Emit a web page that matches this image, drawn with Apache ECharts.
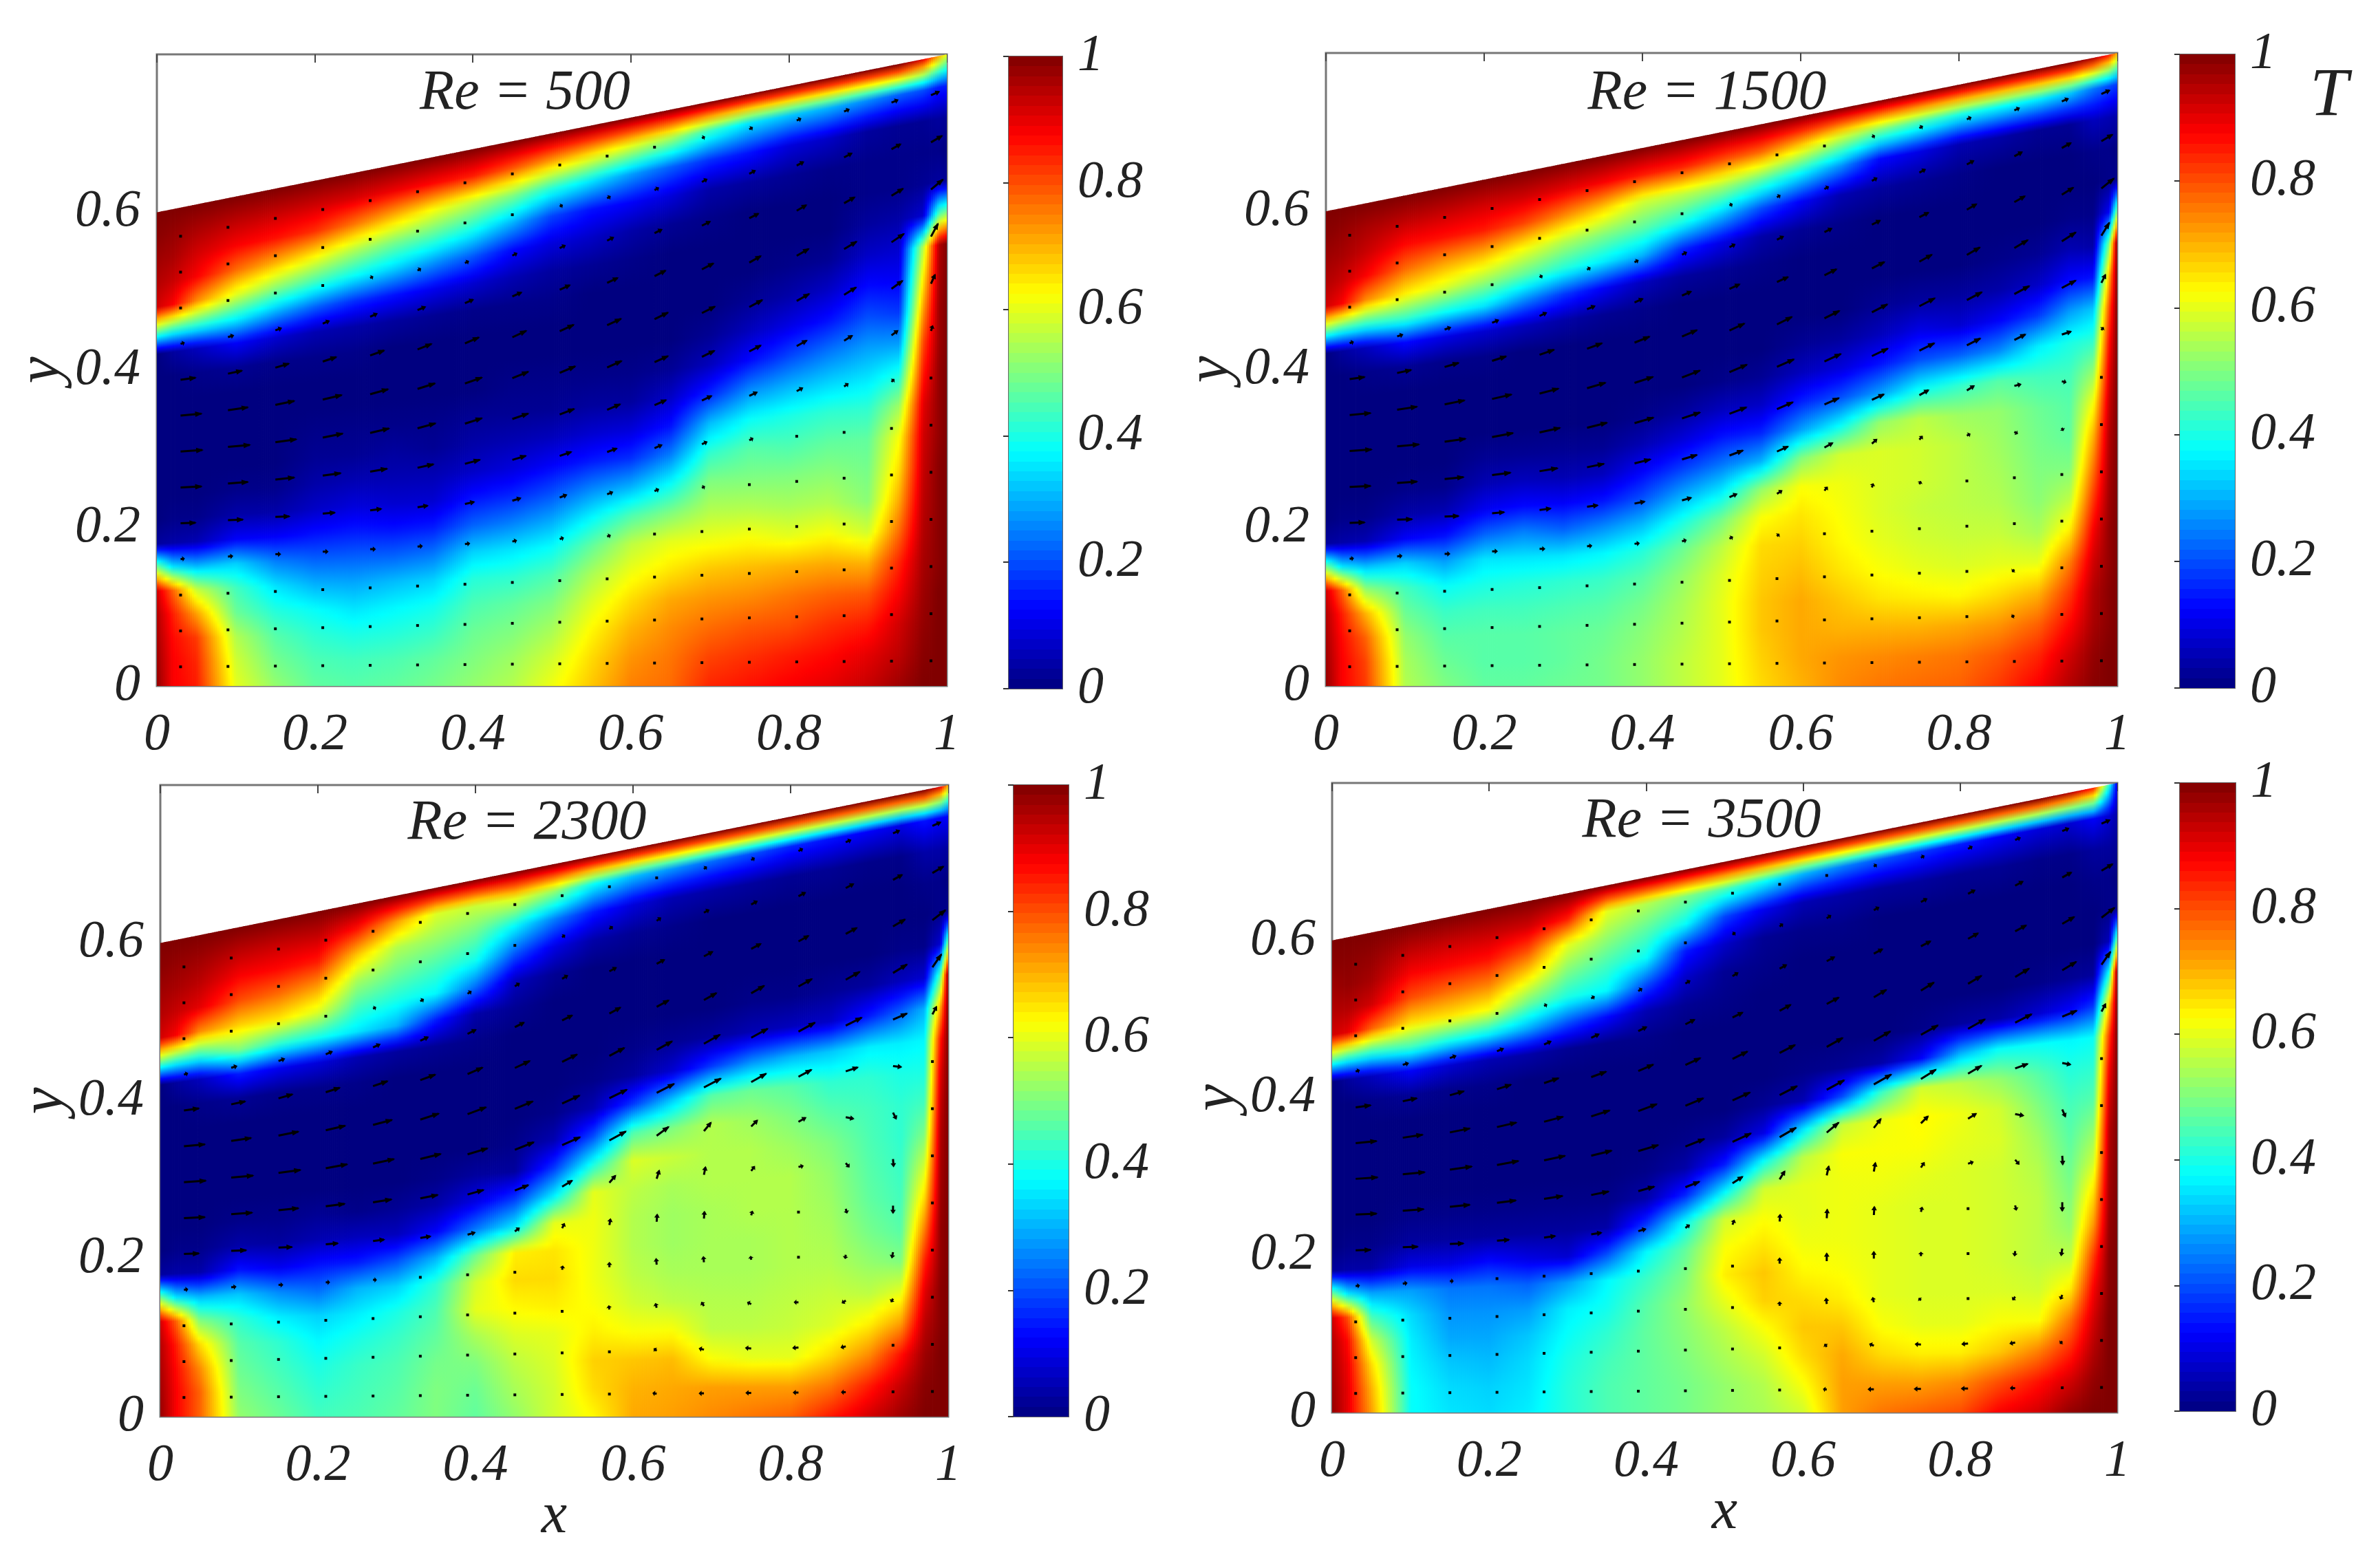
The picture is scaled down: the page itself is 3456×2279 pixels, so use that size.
<!DOCTYPE html>
<html>
<head>
<meta charset="utf-8">
<script src="https://cdn.jsdelivr.net/npm/echarts@6/dist/echarts.min.js"></script>
<style>
html, body { margin: 0; background: #fff; }
#chart { width: 3456px; height: 2279px; }
</style>
</head>
<body>
<div id="chart"></div>
<script>
// mesh: columns at xNodes, 21 nodes per column from floor (eta 0) to sloped wall (eta 1)
const xNodes = [0, 0.02, 0.05, 0.1, 0.15, 0.2, 0.25, 0.3, 0.35, 0.4, 0.45, 0.5, 0.55, 0.6, 0.65, 0.7, 0.75, 0.8, 0.85, 0.9, 0.94, 0.97, 0.99, 1]
const etaNodes = [0, 0.05, 0.1, 0.15, 0.2, 0.25, 0.3, 0.35, 0.4, 0.45, 0.5, 0.55, 0.6, 0.65, 0.7, 0.75, 0.8, 0.85, 0.9, 0.95, 1]
const wallLeft = 0.6
const wallRight = 0.8
const reLabels = ['Re = 500', 'Re = 1500', 'Re = 2300', 'Re = 3500']

// T x100, one line per column of xNodes
const T500 = [
  [98,97,96,95,92,50,3,0,0,0,0,0,0,0,0,50,92,95,97,99,100],
  [88,88,87,85,78,35,4,1,0,0,0,0,0,0,3,45,88,93,96,98,100],
  [85,84,82,72,57,30,5,1,0,0,0,0,0,1,6,42,74,88,92,96,100],
  [60,58,55,48,44,33,12,4,1,0,0,0,0,2,12,37,60,77,88,94,100],
  [52,49,46,41,35,25,12,4,1,0,0,0,0,1,8,29,51,70,86,93,100],
  [47,45,42,38,30,22,14,7,4,2,1,0,0,1,5,22,44,63,83,92,100],
  [46,44,40,35,29,22,15,9,5,2,1,0,0,1,4,17,38,55,76,91,100],
  [47,45,41,37,31,22,14,8,5,3,1,0,0,0,3,14,33,49,69,89,100],
  [49,47,43,39,33,24,15,8,5,2,1,0,0,0,2,11,27,45,62,87,100],
  [52,50,48,45,41,33,22,14,7,4,2,0,0,0,1,8,21,39,56,85,100],
  [55,53,50,47,42,35,25,16,9,5,2,1,0,0,1,5,13,30,50,79,100],
  [61,58,54,50,45,38,29,20,12,6,2,1,0,0,1,3,9,19,41,72,100],
  [68,66,63,59,54,47,37,26,15,8,3,1,0,0,0,2,7,14,35,66,100],
  [75,73,70,66,61,56,45,30,17,9,3,1,0,0,0,1,4,12,28,60,100],
  [77,76,74,71,65,60,50,38,25,14,7,2,0,0,0,0,2,9,22,54,100],
  [84,81,77,73,68,61,55,50,42,31,16,6,2,0,0,0,1,4,17,43,100],
  [86,83,79,74,69,62,55,50,46,38,26,13,6,2,0,0,0,3,14,35,100],
  [88,85,80,76,70,60,54,50,45,40,30,19,10,4,1,0,0,2,9,32,100],
  [90,87,83,78,71,62,55,51,47,42,33,24,14,7,2,0,0,1,7,30,100],
  [93,90,85,79,70,58,51,49,47,42,35,28,20,13,7,3,1,1,3,26,100],
  [97,94,92,88,84,77,71,66,62,53,40,28,18,12,8,4,1,1,2,22,100],
  [100,99,98,97,96,95,94,93,92,90,85,80,72,64,55,8,2,1,2,20,90],
  [100,100,100,100,99,99,99,99,98,98,98,97,97,96,95,45,3,1,3,15,70],
  [100,100,100,100,100,100,100,100,100,100,100,100,100,100,100,50,2,0,2,15,60],
]
const T1500 = [
  [98,97,96,95,92,50,3,0,0,0,0,0,0,0,0,50,92,95,97,99,100],
  [88,88,87,85,78,35,4,1,0,0,0,0,0,0,3,45,88,93,96,98,100],
  [82,81,78,70,52,30,5,1,0,0,0,0,0,1,6,42,74,88,93,96,100],
  [55,54,52,48,44,33,12,4,1,0,0,0,0,2,13,43,64,77,87,94,100],
  [50,48,46,43,38,28,14,5,1,0,0,0,0,1,10,38,59,72,86,93,100],
  [47,46,46,44,40,35,22,11,5,2,0,0,0,1,8,35,53,69,85,92,100],
  [47,46,46,44,41,35,25,13,6,2,0,0,0,0,6,26,47,62,81,92,100],
  [48,47,47,45,42,35,22,12,5,2,0,0,0,0,4,18,41,55,74,90,100],
  [49,49,48,46,43,37,26,14,6,2,0,0,0,0,2,12,36,50,67,88,100],
  [52,52,51,49,46,41,31,20,12,5,1,0,0,0,1,6,30,46,58,85,100],
  [56,56,55,54,52,48,40,29,18,9,3,0,0,0,0,3,16,40,56,84,100],
  [60,60,60,60,59,56,49,36,24,14,6,1,0,0,0,2,10,31,53,80,100],
  [66,67,68,68,67,66,62,52,30,16,7,2,0,0,0,1,4,20,46,77,100],
  [70,71,71,71,69,67,65,62,50,28,15,6,2,0,0,0,2,12,37,68,100],
  [74,73,70,68,65,63,62,61,58,38,20,9,3,0,0,0,1,5,27,58,100],
  [76,74,70,65,62,60,59,59,59,52,28,14,6,2,0,0,0,3,13,50,100],
  [77,75,70,64,60,58,57,58,58,56,38,20,10,3,0,0,0,2,10,45,100],
  [78,76,71,63,59,57,56,56,56,53,42,22,8,3,0,0,0,1,5,40,100],
  [82,79,73,66,60,57,55,54,53,52,46,26,12,4,1,0,0,0,4,38,100],
  [88,84,78,70,60,54,51,50,49,48,44,36,18,7,2,0,0,0,2,36,100],
  [95,92,87,82,75,64,56,50,47,46,44,40,28,13,5,1,0,0,2,32,100],
  [99,98,96,95,92,88,82,76,70,62,52,42,32,14,4,1,0,1,6,24,95],
  [100,100,99,99,98,98,97,96,95,93,90,86,80,70,50,12,1,1,5,20,85],
  [100,100,100,100,100,100,100,100,100,100,100,100,100,100,100,50,1,0,4,18,70],
]
const T2300 = [
  [98,97,96,95,92,50,3,0,0,0,0,0,0,0,0,50,92,95,97,99,100],
  [88,88,87,85,78,35,4,1,0,0,0,0,0,0,3,45,88,93,96,98,100],
  [78,78,74,66,50,30,4,1,0,0,0,0,0,1,6,42,74,90,94,97,100],
  [52,50,48,46,42,32,14,4,1,0,0,0,0,2,15,50,67,80,88,94,100],
  [48,46,44,42,36,26,11,3,1,0,0,0,0,1,11,42,65,77,87,93,100],
  [44,42,40,37,33,23,14,5,2,0,0,0,0,1,9,39,59,72,85,93,100],
  [45,44,43,40,36,30,15,6,1,0,0,0,0,1,5,35,44,54,68,86,100],
  [47,46,45,43,40,33,20,6,2,0,0,0,0,0,3,30,40,48,55,72,100],
  [50,50,49,47,45,42,30,12,4,1,0,0,0,0,2,15,37,44,52,59,100],
  [47,48,50,54,60,58,48,24,10,3,0,0,0,0,1,4,23,39,48,57,100],
  [52,54,56,59,63,66,64,35,18,3,1,0,0,0,0,2,6,21,37,60,100],
  [58,58,59,60,64,66,65,60,36,18,5,1,0,0,0,0,2,10,25,52,100],
  [63,66,67,64,62,61,61,61,60,40,20,5,1,0,0,0,0,4,15,38,100],
  [71,70,68,62,58,56,55,55,56,59,45,18,3,1,0,0,0,2,9,31,100],
  [72,71,69,62,56,54,53,53,54,57,50,32,8,2,0,0,0,1,5,27,100],
  [74,72,62,56,55,54,54,54,55,55,55,46,18,3,0,0,0,0,4,23,100],
  [76,72,60,56,55,54,54,55,55,55,53,48,26,5,1,0,0,0,3,20,100],
  [78,72,60,57,56,55,55,55,55,53,50,46,30,6,1,0,0,0,2,16,100],
  [85,76,66,59,57,55,54,53,52,50,46,42,32,7,2,0,0,0,2,14,100],
  [92,85,74,64,56,52,49,47,46,45,44,42,36,15,3,0,0,0,1,12,100],
  [97,93,86,72,60,50,46,44,43,42,42,40,36,22,6,1,0,0,1,10,100],
  [100,99,97,94,90,84,75,66,58,50,44,40,37,30,8,1,0,1,4,14,100],
  [100,100,100,99,99,98,98,97,96,95,93,90,85,70,45,8,1,1,4,12,90],
  [100,100,100,100,100,100,100,100,100,100,100,100,100,100,100,50,1,0,3,12,70],
]
const T3500 = [
  [98,97,96,95,92,50,3,0,0,0,0,0,0,0,0,50,92,95,97,99,100],
  [90,90,89,87,80,35,4,1,0,0,0,0,0,0,3,45,90,95,98,99,100],
  [72,70,66,58,44,28,4,1,0,0,0,0,0,1,6,42,78,92,96,98,100],
  [38,38,37,36,34,28,10,3,1,0,0,0,0,2,12,44,66,80,88,94,100],
  [35,34,32,29,27,24,10,3,1,0,0,0,0,1,8,39,65,77,87,93,100],
  [34,33,31,29,27,24,13,3,1,0,0,0,0,1,5,36,62,75,86,93,100],
  [36,35,34,32,28,22,10,3,1,0,0,0,0,0,4,29,48,64,79,92,100],
  [41,41,40,38,36,28,8,3,1,0,0,0,0,0,2,20,40,50,60,85,100],
  [45,45,44,42,39,37,20,4,1,0,0,0,0,0,1,13,37,44,52,60,100],
  [47,47,47,47,46,43,37,18,4,1,0,0,0,0,1,5,20,38,46,55,100],
  [49,49,50,51,52,50,47,38,16,4,1,0,0,0,0,2,7,15,38,50,100],
  [52,52,54,56,60,64,62,58,37,15,3,0,0,0,0,1,2,7,19,45,100],
  [54,55,58,62,67,68,65,62,58,38,10,2,0,0,0,0,1,2,11,38,100],
  [58,62,66,68,66,63,61,60,60,56,35,5,1,0,0,0,0,1,5,30,100],
  [72,72,71,68,64,62,61,61,61,62,57,20,2,0,0,0,0,1,4,25,100],
  [76,72,66,62,60,60,60,60,61,62,61,43,4,0,0,0,0,0,3,21,100],
  [78,72,64,60,59,59,59,59,60,62,63,58,12,1,0,0,0,0,3,18,100],
  [80,74,64,60,59,59,59,59,59,60,61,56,30,3,0,0,0,0,2,15,100],
  [88,80,68,62,59,58,58,58,58,59,58,52,38,4,0,0,0,0,2,12,100],
  [92,86,75,62,58,56,56,56,55,53,50,46,38,8,1,0,0,0,1,9,100],
  [98,92,84,76,64,56,52,50,48,46,44,41,37,12,2,0,0,0,1,8,95],
  [100,98,95,92,88,82,73,66,58,52,46,42,38,18,3,0,0,1,3,12,85],
  [100,100,100,100,99,99,98,97,96,95,92,88,82,68,40,6,1,1,3,8,40],
  [100,100,100,100,100,100,100,100,100,100,100,100,100,100,100,50,1,0,2,4,10],
]

// arrows: tail at (arrowX, arrowEta), components as on-screen lengths, one line per column
const arrowX = [0.03, 0.09, 0.15, 0.21, 0.27, 0.33, 0.39, 0.45, 0.51, 0.57, 0.63, 0.69, 0.75, 0.81, 0.87, 0.93, 0.98]
const arrowEta = [0.04, 0.115, 0.19, 0.265, 0.34, 0.415, 0.49, 0.565, 0.64, 0.715, 0.79, 0.865, 0.94]
const U500 = [
  [0,0,0,6,30,42,44,42,30,6,1,0,0],[0,0,1,8,30,40,44,40,28,10,1,0,0],[0,0,1,9,28,38,42,38,27,11,2,0,0],
  [1,1,2,9,24,36,40,38,27,12,3,1,0],[1,1,2,9,22,34,38,36,28,13,4,1,0],[1,1,2,8,20,32,36,35,28,15,5,1,0],
  [1,1,2,8,18,30,34,34,28,16,6,2,1],[1,1,3,7,16,27,32,32,28,18,8,3,1],[1,1,3,6,13,23,29,31,28,20,10,4,1],
  [1,1,2,5,10,19,26,29,28,21,12,5,2],[1,1,2,3,7,14,23,27,27,22,14,7,3],[1,1,2,2,4,9,19,25,26,23,16,9,4],
  [1,1,1,1,2,6,15,23,26,23,18,11,5],[0,1,1,1,1,3,11,20,25,24,19,13,7],[0,0,0,0,1,2,7,16,24,25,21,15,9],
  [0,0,0,0,1,1,4,12,22,25,23,18,12],[0,0,0,0,0,0,1,3,8,14,24,22,16],
]
const V500 = [
  [0,0,0,1,1,2,3,4,4,2,0,0,0],[0,0,0,1,1,3,4,6,6,3,0,0,0],[0,0,0,0,1,4,6,8,8,4,1,0,0],
  [0,0,0,0,2,5,8,9,9,5,1,0,0],[0,0,0,0,3,6,9,10,10,6,2,1,0],[0,0,0,1,3,7,10,11,11,6,3,1,0],
  [0,0,1,1,4,8,11,12,12,7,3,1,1],[0,0,1,2,5,8,11,13,13,8,4,2,1],[0,0,1,2,5,8,11,13,13,9,5,2,1],
  [0,1,1,2,4,7,11,13,13,10,6,3,1],[1,1,1,2,3,6,10,12,13,11,7,4,2],[1,1,1,1,2,4,9,12,13,12,8,5,2],
  [1,1,1,1,1,3,7,12,14,13,9,6,3],[1,1,1,1,1,2,6,11,14,14,11,7,3],[1,1,1,1,1,2,5,10,15,15,12,8,4],
  [1,1,1,1,2,2,4,9,16,17,14,10,5],[1,1,1,1,1,2,3,9,18,26,20,13,7],
]
const U1500 = [
  [0,0,0,6,30,42,44,42,30,6,1,0,0],[0,0,1,8,30,40,44,40,28,10,1,0,0],[0,0,1,9,28,38,42,40,28,11,2,0,0],
  [1,1,2,9,24,37,42,39,28,12,3,1,0],[1,1,2,9,22,36,41,38,29,13,4,1,0],[1,1,2,8,21,34,40,37,30,15,5,1,0],
  [1,1,2,8,20,32,38,37,30,16,6,2,1],[1,1,2,7,18,30,36,36,30,18,8,3,1],[1,1,2,5,14,27,34,35,30,20,10,4,1],
  [1,1,1,3,9,22,32,34,30,22,12,5,2],[1,1,1,1,5,16,29,33,30,24,14,7,3],[0,0,0,1,2,9,24,32,31,25,16,9,4],
  [-2,-3,-1,0,2,5,18,30,31,25,18,11,5],[-3,-4,-2,0,2,5,14,27,30,26,19,13,7],[-2,-4,-3,-1,1,5,12,22,30,27,21,15,9],
  [-1,-2,-2,-1,0,2,7,18,28,28,23,18,12],[0,0,0,0,0,0,1,3,8,16,25,22,16],
]
const V1500 = [
  [0,0,0,1,1,2,3,4,4,2,0,0,0],[0,0,0,1,1,3,4,6,6,3,0,0,0],[0,0,0,0,1,4,6,8,8,4,1,0,0],
  [0,0,0,0,2,5,8,9,9,5,1,0,0],[0,0,0,0,3,6,9,10,10,6,2,1,0],[0,0,0,1,3,7,10,11,11,6,3,1,0],
  [0,0,1,1,4,8,11,12,12,7,3,1,1],[0,0,1,2,5,9,12,14,13,8,4,2,1],[0,1,2,3,6,10,13,15,14,9,5,2,1],
  [0,1,2,3,6,10,14,15,15,10,6,3,1],[1,2,3,4,6,9,13,15,15,12,7,4,2],[1,2,3,4,6,8,11,15,16,13,8,5,2],
  [0,1,2,3,4,6,10,15,16,14,9,6,3],[-1,-1,0,0,0,3,9,14,16,15,11,7,3],[-1,-2,-3,-4,-4,-3,3,11,16,16,12,8,4],
  [0,-1,-2,-3,-4,-4,-2,6,15,18,14,10,5],[0,0,0,0,-1,-1,0,4,16,26,20,13,7],
]
const U2300 = [
  [0,0,0,6,30,42,44,42,30,6,1,0,0],[0,0,1,8,30,42,44,40,28,10,1,0,0],[0,0,1,7,27,40,44,40,28,11,2,0,0],
  [1,1,1,6,24,38,43,39,28,12,3,1,0],[1,1,1,5,22,37,42,38,29,13,4,1,0],[1,1,1,4,20,35,41,37,30,15,5,1,0],
  [0,0,1,2,14,32,40,37,30,16,6,2,1],[0,0,0,1,8,27,38,36,30,18,8,3,1],[-1,-1,0,1,4,20,36,35,30,20,10,4,1],
  [-3,-2,-1,0,2,12,33,35,30,22,13,5,2],[-6,-4,-2,-1,1,5,24,35,31,24,15,7,3],[-8,-8,-4,-1,1,3,14,34,32,25,17,9,4],
  [-9,-10,-6,-1,2,6,12,30,33,26,19,11,5],[-9,-10,-7,-1,3,8,14,26,33,27,20,13,7],[-7,-8,-6,-1,2,6,15,24,32,28,22,15,9],
  [-2,-3,-3,-2,0,1,6,16,28,28,24,18,12],[0,0,0,0,0,0,0,2,8,18,26,22,16],
]
const V2300 = [
  [0,0,0,1,1,2,3,4,4,2,0,0,0],[0,0,0,1,1,3,4,6,6,3,0,0,0],[0,0,0,0,1,4,6,8,8,4,1,0,0],
  [0,0,0,0,2,5,8,9,9,5,1,0,0],[0,0,0,0,3,6,9,10,10,6,2,1,0],[0,0,0,1,3,7,10,12,11,7,3,1,0],
  [0,1,1,2,4,9,12,14,13,8,4,2,1],[1,1,2,3,6,11,15,15,14,9,5,2,1],[1,2,4,6,8,12,16,16,15,10,6,3,1],
  [2,3,6,8,11,14,18,17,16,12,7,4,2],[1,3,7,11,14,16,18,18,17,13,8,5,2],[0,2,6,10,13,15,17,18,18,14,9,5,3],
  [0,1,3,5,7,8,12,17,18,15,10,6,3],[0,-1,0,0,0,2,8,14,18,15,11,7,4],[0,-2,-4,-6,-7,-7,-3,8,16,16,12,8,4],
  [0,-2,-5,-10,-14,-14,-12,-2,12,17,14,10,5],[0,0,0,-1,-2,-3,-3,3,15,26,20,13,7],
]
const U3500 = [
  [0,0,0,6,30,42,44,42,30,6,1,0,0],[0,0,1,7,30,42,44,40,28,10,1,0,0],[0,0,1,5,27,40,44,40,28,11,2,0,0],
  [1,1,1,4,24,38,43,39,28,12,3,1,0],[1,1,1,3,22,37,42,38,29,13,4,1,0],[1,1,1,3,20,35,41,37,30,15,5,1,0],
  [1,1,1,2,14,32,40,37,30,16,6,2,1],[1,1,1,1,7,28,38,36,30,18,8,3,1],[0,1,1,1,3,20,37,35,30,20,10,4,1],
  [-1,0,0,0,1,10,33,35,31,22,13,5,2],[-5,-3,-1,0,1,4,24,35,32,24,15,7,3],[-10,-7,-2,0,1,3,14,35,33,25,17,9,4],
  [-12,-10,-3,0,2,6,14,30,34,26,19,11,5],[-12,-11,-4,0,3,9,16,27,34,27,20,13,7],[-8,-9,-4,-1,2,7,16,25,33,28,22,15,9],
  [-2,-3,-3,-2,0,1,6,16,29,28,24,18,12],[0,0,0,0,0,0,0,2,8,18,26,22,16],
]
const V3500 = [
  [0,0,0,1,1,2,3,4,4,2,0,0,0],[0,0,0,1,1,3,4,6,6,3,0,0,0],[0,0,0,0,1,4,6,8,8,4,1,0,0],
  [0,0,0,0,2,5,8,9,9,5,1,0,0],[0,0,0,0,3,6,9,10,10,6,2,1,0],[0,0,0,1,3,7,10,12,11,7,3,1,0],
  [0,1,1,1,4,9,12,14,13,8,4,2,1],[0,1,1,2,5,11,15,15,14,9,5,2,1],[1,1,2,4,8,13,17,16,15,10,6,3,1],
  [2,3,6,10,13,16,19,18,16,12,7,4,2],[1,4,10,15,17,18,20,19,18,13,8,5,2],[0,3,8,13,16,17,18,20,19,15,9,5,3],
  [0,1,3,6,8,9,14,19,19,16,10,6,3],[0,-1,0,0,0,3,10,16,19,16,11,7,4],[0,-2,-5,-8,-8,-8,-3,9,17,17,12,8,4],
  [0,-3,-7,-13,-17,-17,-14,-3,12,17,14,10,5],[0,0,0,-1,-2,-3,-3,3,15,26,20,13,7],
]

const fields = [T500, T1500, T2300, T3500]
const arrowsU = [U500, U1500, U2300, U3500]
const arrowsV = [V500, V1500, V2300, V3500]

// plot and colorbar rectangles
const plots = [
  { left: 228, right: 1376, top: 79, bottom: 997, barLeft: 1466, barRight: 1544, barTop: 82, barBottom: 1001, titleX: 758, titleY: 136 },
  { left: 1927, right: 3077, top: 77, bottom: 997, barLeft: 3168, barRight: 3248, barTop: 79, barBottom: 1000, titleX: 2476, titleY: 136 },
  { left: 233, right: 1378, top: 1141, bottom: 2059, barLeft: 1473, barRight: 1553, barTop: 1141, barBottom: 2059, titleX: 761, titleY: 1197 },
  { left: 1936, right: 3077, top: 1138, bottom: 2053, barLeft: 3168, barRight: 3249, barTop: 1138, barBottom: 2051, titleX: 2468, titleY: 1194 },
]

const font = { fontFamily: 'Liberation Serif', fontStyle: 'italic', color: '#222', fontSize: 76 }
const arrowScale = 0.72
const wallY = (x) => wallLeft + (wallRight - wallLeft) * x

const jet = (v) => {
  const c = (a) => Math.round(255 * Math.min(1, Math.max(0, 1.5 - Math.abs(4 * v - a))))
  return `rgb(${c(3)},${c(2)},${c(1)})`
}

// one mesh column is drawn as thin strips, each with a vertical gradient through the T values
const renderField = (T) => (params, api) => {
  const i = params.dataIndex
  const x0 = xNodes[i]
  const x1 = xNodes[i + 1]
  const px0 = api.coord([x0, 0])[0]
  const px1 = api.coord([x1, 0])[0]
  const n = Math.max(1, Math.round((px1 - px0) / 3))
  const children = []
  for (let s = 0; s < n; s++) {
    const xa = x0 + ((x1 - x0) * s) / n
    const xb = x0 + ((x1 - x0) * (s + 1)) / n
    const f = (s + 0.5) / n
    const xm = xa + (xb - xa) / 2
    const stops = []
    etaNodes.forEach((eta, k) => {
      const a = T[i][k] + (T[i + 1][k] - T[i][k]) * f
      if (k === etaNodes.length - 1) {
        stops.push({ offset: 1, color: jet(a / 100) })
        return
      }
      const b = T[i][k + 1] + (T[i + 1][k + 1] - T[i][k + 1]) * f
      for (let q = 0; q < 4; q++) {
        const w = q / 4
        stops.push({ offset: eta + (etaNodes[k + 1] - eta) * w, color: jet((a + (b - a) * w) / 100) })
      }
    })
    const floor = api.coord([xm, 0])
    const top = api.coord([xm, wallY(xm)])
    const pa = api.coord([xa, 0])
    const pb = api.coord([xb, 0])
    const ta = api.coord([xa, wallY(xa)])
    const tb = api.coord([xb, wallY(xb)])
    children.push({
      type: 'polygon',
      silent: true,
      shape: { points: [pa, [pb[0] + 0.8, pb[1]], [tb[0] + 0.8, tb[1]], ta] },
      style: { fill: new echarts.graphic.LinearGradient(0, floor[1], 0, top[1], stops, true) },
    })
  }
  return { type: 'group', children }
}

const renderArrow = (params, api) => {
  const p = api.coord([api.value(0), api.value(1)])
  const u = api.value(2) * arrowScale
  const v = api.value(3) * arrowScale
  const len = Math.hypot(u, v)
  const black = { fill: '#000', stroke: '#000', lineWidth: 3 }
  if (len < 3) {
    return { type: 'rect', silent: true, shape: { x: p[0] - 2, y: p[1] - 2, width: 4, height: 4 }, style: { fill: '#000' } }
  }
  const ex = p[0] + u
  const ey = p[1] - v
  const ux = u / len
  const uy = -v / len
  const h = Math.min(9, len * 0.4)
  return {
    type: 'group',
    silent: true,
    children: [
      { type: 'line', shape: { x1: p[0], y1: p[1], x2: ex, y2: ey }, style: black },
      {
        type: 'polygon',
        shape: {
          points: [
            [ex + ux * 2, ey + uy * 2],
            [ex - ux * h - uy * 4, ey - uy * h + ux * 4],
            [ex - ux * h + uy * 4, ey - uy * h - ux * 4],
          ],
        },
        style: { fill: '#000' },
      },
    ],
  }
}

const renderBar = (params, api) => {
  const lo = api.coord([0, 0])
  const hi = api.coord([1, 1])
  const stops = []
  for (let k = 0; k < 64; k++) {
    stops.push({ offset: k / 64, color: jet((k + 0.5) / 64) })
    stops.push({ offset: (k + 1) / 64, color: jet((k + 0.5) / 64) })
  }
  return {
    type: 'rect',
    silent: true,
    shape: { x: lo[0], y: hi[1], width: hi[0] - lo[0], height: lo[1] - hi[1] },
    style: { fill: new echarts.graphic.LinearGradient(0, lo[1], 0, hi[1], stops, true) },
  }
}

const grid = []
const xAxis = []
const yAxis = []
const series = []
const title = []

plots.forEach((p, idx) => {
  const g = grid.length
  grid.push({ left: p.left, top: p.top, width: p.right - p.left, height: p.bottom - p.top, show: true, backgroundColor: '#fff', borderColor: '#777', borderWidth: 3, outerBoundsMode: 'none' })
  grid.push({ left: p.barLeft, top: p.barTop, width: p.barRight - p.barLeft, height: p.barBottom - p.barTop, show: true, borderColor: '#666', borderWidth: 2, outerBoundsMode: 'none' })

  xAxis.push({
    gridIndex: g, type: 'value', min: 0, max: 1, interval: 0.2, position: 'bottom',
    name: idx > 1 ? 'x' : '', nameLocation: 'middle', nameGap: 104, nameMoveOverlap: false,
    nameTextStyle: { ...font, fontSize: 84 },
    axisLine: { show: false }, axisTick: { show: false }, splitLine: { show: false },
    axisLabel: { ...font, margin: 34, showMinLabel: true, showMaxLabel: true, hideOverlap: false },
  })
  xAxis.push({
    gridIndex: g, type: 'value', min: 0, max: 1, interval: 0.2, position: 'top',
    axisLine: { show: false }, axisLabel: { show: false }, splitLine: { show: false },
    axisTick: { inside: true, length: 12, lineStyle: { color: '#444', width: 2 } },
  })
  xAxis.push({ gridIndex: g + 1, type: 'value', min: 0, max: 1, show: false })

  yAxis.push({
    gridIndex: g, type: 'value', min: 0, max: 0.8, interval: 0.2, position: 'left',
    name: 'y', nameLocation: 'middle', nameGap: 122, nameRotate: 90, nameMoveOverlap: false,
    nameTextStyle: { ...font, fontSize: 88 },
    axisLine: { show: false }, axisTick: { show: false }, splitLine: { show: false },
    axisLabel: { ...font, margin: 24, showMaxLabel: false, padding: [12, 0, 0, 0] },
  })
  yAxis.push({
    gridIndex: g + 1, type: 'value', min: 0, max: 1, interval: 0.2, position: 'right',
    axisLine: { show: false }, splitLine: { show: false },
    axisTick: { inside: true, length: 8, lineStyle: { color: '#333', width: 2 } },
    axisLabel: { ...font, margin: 22, padding: [12, 0, 0, 0] },
  })

  const xMain = idx * 3
  const yMain = idx * 2
  series.push({
    type: 'custom', xAxisIndex: xMain, yAxisIndex: yMain, clip: true, silent: true, z: 2, progressive: 0,
    renderItem: renderField(fields[idx]),
    data: xNodes.slice(0, -1).map((x, i) => [x, i]),
  })
  const arrows = []
  arrowX.forEach((x, c) => {
    arrowEta.forEach((eta, r) => {
      arrows.push([x, eta * wallY(x), arrowsU[idx][c][r], arrowsV[idx][c][r]])
    })
  })
  series.push({
    type: 'custom', xAxisIndex: xMain, yAxisIndex: yMain, clip: true, silent: true, z: 3, progressive: 0,
    renderItem: renderArrow, data: arrows,
  })
  series.push({
    type: 'custom', xAxisIndex: xMain + 2, yAxisIndex: yMain + 1, silent: true, z: 2,
    renderItem: renderBar, data: [[0, 0]],
  })
  title.push({
    text: reLabels[idx], left: p.titleX, top: p.titleY - 46, textAlign: 'center',
    textStyle: { ...font, fontSize: 82, fontWeight: 'normal' },
  })
})

title.push({
  text: 'T', left: 3352, top: 86,
  textStyle: { ...font, fontSize: 100, fontWeight: 'normal' },
})

const chart = echarts.init(document.getElementById('chart'), null, { renderer: 'canvas' })
chart.setOption({ animation: false, backgroundColor: '#fff', title, grid, xAxis, yAxis, series })
</script>
</body>
</html>
